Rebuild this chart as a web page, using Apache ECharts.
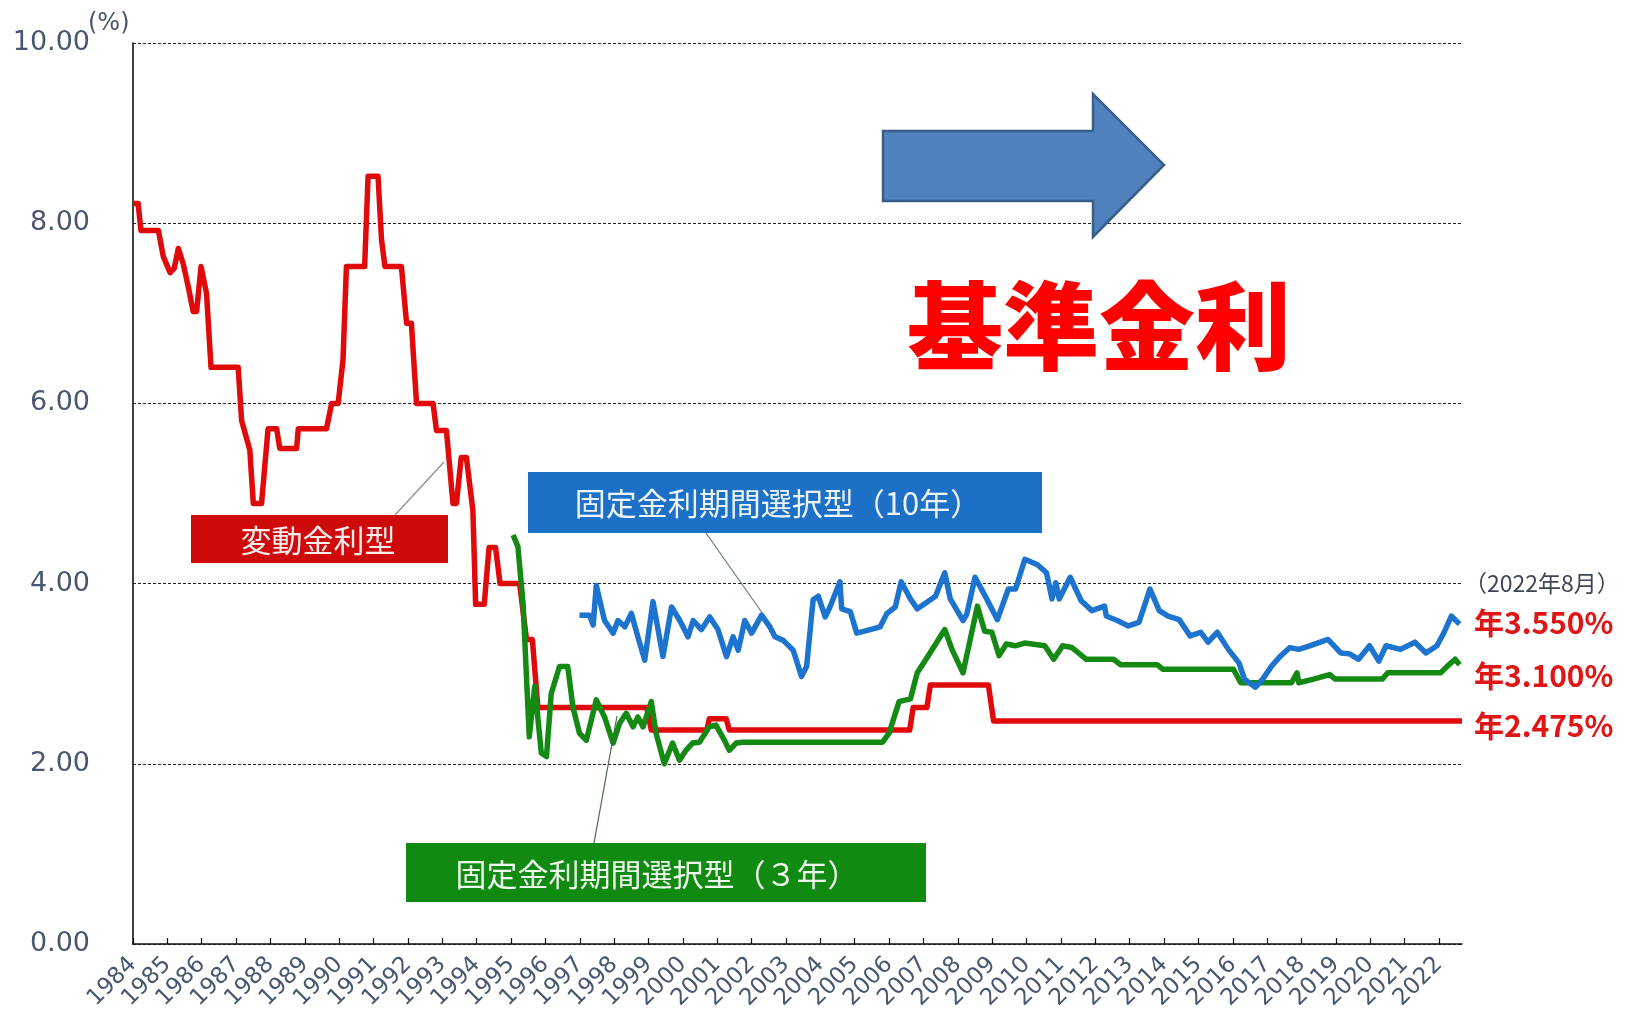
<!DOCTYPE html>
<html>
<head>
<meta charset="utf-8">
<script src="https://cdn.jsdelivr.net/npm/echarts@6/dist/echarts.min.js"></script>
<style>
  html, body { margin: 0; padding: 0; background: #ffffff; }
  #chart { width: 1626px; height: 1017px; }
</style>
</head>
<body>
<div id="chart"></div>
<script>
// ---- Data (decimal year, rate %) ----
const yTickValues = [0, 2, 4, 6, 8, 10];

const variableYears = [1984.00, 1984.15, 1984.23, 1984.74, 1984.88, 1985.08, 1985.20, 1985.32, 1985.46, 1985.61, 1985.75, 1985.85, 1985.98, 1986.14, 1986.27, 1987.06, 1987.16, 1987.40, 1987.50, 1987.74, 1987.93, 1988.18, 1988.27, 1988.76, 1988.81, 1989.63, 1989.78, 1989.97, 1990.11, 1990.21, 1990.74, 1990.84, 1991.13, 1991.23, 1991.33, 1991.81, 1991.96, 1992.10, 1992.25, 1992.73, 1992.83, 1993.12, 1993.31, 1993.41, 1993.55, 1993.70, 1993.89, 1993.97, 1994.22, 1994.36, 1994.55, 1994.68, 1995.25, 1995.45, 1995.62, 1995.78, 1998.95, 1999.08, 2000.70, 2000.77, 2001.26, 2001.35, 2006.60, 2006.70, 2007.10, 2007.20, 2008.89, 2009.04, 2022.67];
const variableRates = [8.22, 8.22, 7.92, 7.92, 7.63, 7.45, 7.50, 7.72, 7.55, 7.29, 7.02, 7.02, 7.52, 7.22, 6.40, 6.40, 5.81, 5.48, 4.89, 4.89, 5.72, 5.72, 5.50, 5.50, 5.72, 5.72, 6.00, 6.00, 6.48, 7.52, 7.52, 8.52, 8.52, 7.82, 7.52, 7.52, 6.89, 6.89, 6.00, 6.00, 5.70, 5.70, 4.89, 4.89, 5.40, 5.40, 4.81, 3.77, 3.77, 4.40, 4.40, 4.00, 4.00, 3.38, 3.38, 2.625, 2.625, 2.375, 2.375, 2.50, 2.50, 2.375, 2.375, 2.625, 2.625, 2.875, 2.875, 2.475, 2.475];

const fixed3Years = [1995.06, 1995.20, 1995.35, 1995.53, 1995.69, 1995.88, 1996.03, 1996.17, 1996.41, 1996.65, 1996.80, 1996.99, 1997.19, 1997.48, 1997.72, 1997.97, 1998.16, 1998.35, 1998.55, 1998.69, 1998.84, 1999.08, 1999.22, 1999.46, 1999.70, 1999.90, 2000.09, 2000.28, 2000.48, 2000.77, 2000.96, 2001.21, 2001.35, 2001.55, 2001.74, 2005.81, 2006.00, 2006.29, 2006.62, 2006.82, 2007.14, 2007.62, 2007.83, 2008.15, 2008.36, 2008.57, 2008.78, 2008.99, 2009.20, 2009.41, 2009.67, 2009.94, 2010.53, 2010.79, 2011.05, 2011.32, 2011.74, 2012.53, 2012.74, 2013.80, 2013.96, 2016.02, 2016.23, 2017.71, 2017.87, 2017.92, 2018.35, 2018.82, 2018.98, 2020.35, 2020.51, 2022.05, 2022.26, 2022.47, 2022.60];
const fixed3Rates = [4.54, 4.41, 3.78, 2.30, 2.86, 2.12, 2.08, 2.78, 3.08, 3.08, 2.63, 2.34, 2.26, 2.71, 2.52, 2.23, 2.45, 2.56, 2.41, 2.52, 2.41, 2.69, 2.34, 2.00, 2.23, 2.04, 2.15, 2.23, 2.24, 2.41, 2.43, 2.26, 2.15, 2.23, 2.24, 2.24, 2.34, 2.69, 2.72, 3.01, 3.20, 3.49, 3.27, 3.01, 3.38, 3.75, 3.47, 3.46, 3.20, 3.33, 3.31, 3.34, 3.31, 3.16, 3.31, 3.29, 3.16, 3.16, 3.10, 3.10, 3.05, 3.05, 2.90, 2.90, 3.01, 2.90, 2.94, 2.99, 2.94, 2.94, 3.01, 3.01, 3.09, 3.16, 3.10];

const fixed10Years = [1996.99, 1997.28, 1997.39, 1997.48, 1997.72, 1997.97, 1998.11, 1998.31, 1998.50, 1998.69, 1998.89, 1999.13, 1999.42, 1999.67, 1999.91, 2000.15, 2000.30, 2000.54, 2000.78, 2001.02, 2001.27, 2001.46, 2001.61, 2001.80, 2002.00, 2002.29, 2002.53, 2002.68, 2002.92, 2003.21, 2003.45, 2003.60, 2003.79, 2003.94, 2004.14, 2004.28, 2004.57, 2004.62, 2004.87, 2005.06, 2005.45, 2005.74, 2005.94, 2006.18, 2006.35, 2006.62, 2006.82, 2007.09, 2007.35, 2007.62, 2007.78, 2008.15, 2008.26, 2008.50, 2008.84, 2009.15, 2009.47, 2009.68, 2009.95, 2010.32, 2010.58, 2010.74, 2010.85, 2010.95, 2011.27, 2011.59, 2011.90, 2012.27, 2012.32, 2012.64, 2012.96, 2013.27, 2013.59, 2013.86, 2014.12, 2014.44, 2014.76, 2015.07, 2015.28, 2015.55, 2015.87, 2016.18, 2016.34, 2016.66, 2016.87, 2017.14, 2017.40, 2017.66, 2017.92, 2018.24, 2018.77, 2019.14, 2019.40, 2019.66, 2019.98, 2020.25, 2020.46, 2020.88, 2021.30, 2021.62, 2021.94, 2022.15, 2022.36, 2022.60];
const fixed10Rates = [3.65, 3.65, 3.54, 3.98, 3.59, 3.45, 3.59, 3.52, 3.67, 3.41, 3.15, 3.80, 3.19, 3.74, 3.59, 3.41, 3.59, 3.49, 3.63, 3.49, 3.19, 3.41, 3.26, 3.59, 3.45, 3.65, 3.52, 3.41, 3.37, 3.26, 2.97, 3.08, 3.82, 3.86, 3.63, 3.74, 4.02, 3.72, 3.69, 3.45, 3.49, 3.52, 3.67, 3.74, 4.02, 3.83, 3.72, 3.79, 3.86, 4.12, 3.83, 3.59, 3.66, 4.07, 3.83, 3.60, 3.94, 3.94, 4.27, 4.21, 4.12, 3.83, 4.01, 3.83, 4.07, 3.81, 3.70, 3.75, 3.64, 3.59, 3.53, 3.57, 3.94, 3.70, 3.64, 3.60, 3.42, 3.46, 3.35, 3.46, 3.27, 3.12, 2.94, 2.85, 2.94, 3.09, 3.20, 3.29, 3.27, 3.31, 3.38, 3.23, 3.22, 3.16, 3.31, 3.14, 3.31, 3.27, 3.35, 3.23, 3.31, 3.46, 3.64, 3.55];

const latestLabels = ['年3.550%', '年3.100%', '年2.475%'];
const latestDate = '（2022年8月）';

// ---- build ----
const zip = (xs, ys) => xs.map((x, i) => [x, ys[i]]);
const chart = echarts.init(document.getElementById('chart'));
const axisColor = '#485670';
const cjk = '"Noto Sans CJK JP", sans-serif';

chart.setOption({
  animation: false,
  backgroundColor: '#ffffff',
  grid: { left: 133, right: 164, top: 43, bottom: 73, containLabel: false, outerBoundsMode: 'none' },
  xAxis: {
    type: 'value', min: 1984, max: 2022.67, interval: 1,
    axisLine: { show: true, lineStyle: { color: '#111', width: 1.6 } },
    axisTick: { show: true, inside: true, length: 6, lineStyle: { color: '#111', width: 1.2 } },
    splitLine: { show: false },
    axisLabel: {
      rotate: 45, margin: 17, color: axisColor, fontSize: 23, fontFamily: '"DejaVu Sans", sans-serif',
      showMaxLabel: false, formatter: v => String(Math.round(v))
    }
  },
  yAxis: {
    type: 'value', min: yTickValues[0], max: yTickValues[yTickValues.length - 1], interval: 2,
    axisLine: { show: true, lineStyle: { color: '#111', width: 1.6 } },
    axisTick: { show: false },
    splitLine: { show: true, lineStyle: { color: '#222', width: 1, type: [3, 2] } },
    axisLabel: { margin: 43, color: axisColor, fontSize: 27, fontFamily: '"DejaVu Sans", sans-serif', formatter: v => v.toFixed(2) }
  },
  series: [
    { name: '変動金利型', type: 'line', data: zip(variableYears, variableRates), showSymbol: false,
      lineStyle: { color: '#e00a0a', width: 5.5, join: 'round' }, itemStyle: { color: '#e00a0a' }, z: 2 },
    { name: '固定金利期間選択型（3年）', type: 'line', data: zip(fixed3Years, fixed3Rates), showSymbol: false,
      lineStyle: { color: '#148a14', width: 5.5, join: 'round' }, itemStyle: { color: '#148a14' }, z: 3 },
    { name: '固定金利期間選択型（10年）', type: 'line', data: zip(fixed10Years, fixed10Rates), showSymbol: false,
      lineStyle: { color: '#1c74cf', width: 5.5, join: 'round' }, itemStyle: { color: '#1c74cf' }, z: 4 }
  ],
  graphic: [
    { type: 'text', left: 88, top: 12, style: { text: '(%)', fill: axisColor, font: '24px "DejaVu Sans", sans-serif' } },
    // leader lines
    { type: 'line', shape: { x1: 395, y1: 515, x2: 444, y2: 462 }, style: { stroke: '#8a8a8a', lineWidth: 1.2 }, z: 10 },
    { type: 'line', shape: { x1: 706, y1: 533, x2: 763, y2: 614 }, style: { stroke: '#6a7a8a', lineWidth: 1.2 }, z: 10 },
    { type: 'line', shape: { x1: 594, y1: 843, x2: 617, y2: 716 }, style: { stroke: '#4a6a4a', lineWidth: 1.2 }, z: 10 },
    // label boxes
    { type: 'rect', shape: { x: 191, y: 515, width: 257, height: 48 }, style: { fill: '#cf0a0a' }, z: 10 },
    { type: 'text', x: 318, y: 540, style: { text: '変動金利型', fill: '#fbecec', font: '31px ' + cjk, textAlign: 'center', textVerticalAlign: 'middle' }, z: 11 },
    { type: 'rect', shape: { x: 528, y: 472, width: 514, height: 61 }, style: { fill: '#1c70c6' }, z: 10 },
    { type: 'text', x: 778, y: 503, style: { text: '固定金利期間選択型（10年）', fill: '#eef4fb', font: '31px ' + cjk, textAlign: 'center', textVerticalAlign: 'middle' }, z: 11 },
    { type: 'rect', shape: { x: 406, y: 843, width: 520, height: 59 }, style: { fill: '#118a11' }, z: 10 },
    { type: 'text', x: 657, y: 874, style: { text: '固定金利期間選択型（３年）', fill: '#eef7ee', font: '31px ' + cjk, textAlign: 'center', textVerticalAlign: 'middle' }, z: 11 },
    // right-side latest values
    { type: 'text', x: 1464, y: 583, style: { text: latestDate, fill: '#3e4656', font: '23px ' + cjk, textVerticalAlign: 'middle' }, z: 11 },
    { type: 'text', x: 1474, y: 623, style: { text: latestLabels[0], fill: '#e01515', font: 'bold 30px ' + cjk, textVerticalAlign: 'middle' }, z: 11 },
    { type: 'text', x: 1474, y: 676, style: { text: latestLabels[1], fill: '#e01515', font: 'bold 30px ' + cjk, textVerticalAlign: 'middle' }, z: 11 },
    { type: 'text', x: 1474, y: 726, style: { text: latestLabels[2], fill: '#e01515', font: 'bold 30px ' + cjk, textVerticalAlign: 'middle' }, z: 11 },
    // arrow
    { type: 'polygon', shape: { points: [[883, 131], [1093, 131], [1093, 94], [1164, 165], [1093, 237], [1093, 201], [883, 201]] },
      style: { fill: '#4f81bd', stroke: '#385d8a', lineWidth: 2.5 }, z: 10 },
    // headline
    { type: 'text', x: 1099, y: 326, style: { text: '基準金利', fill: '#ff0000', font: '900 96px ' + cjk, textAlign: 'center', textVerticalAlign: 'middle' }, z: 11 }
  ]
});
</script>
</body>
</html>
